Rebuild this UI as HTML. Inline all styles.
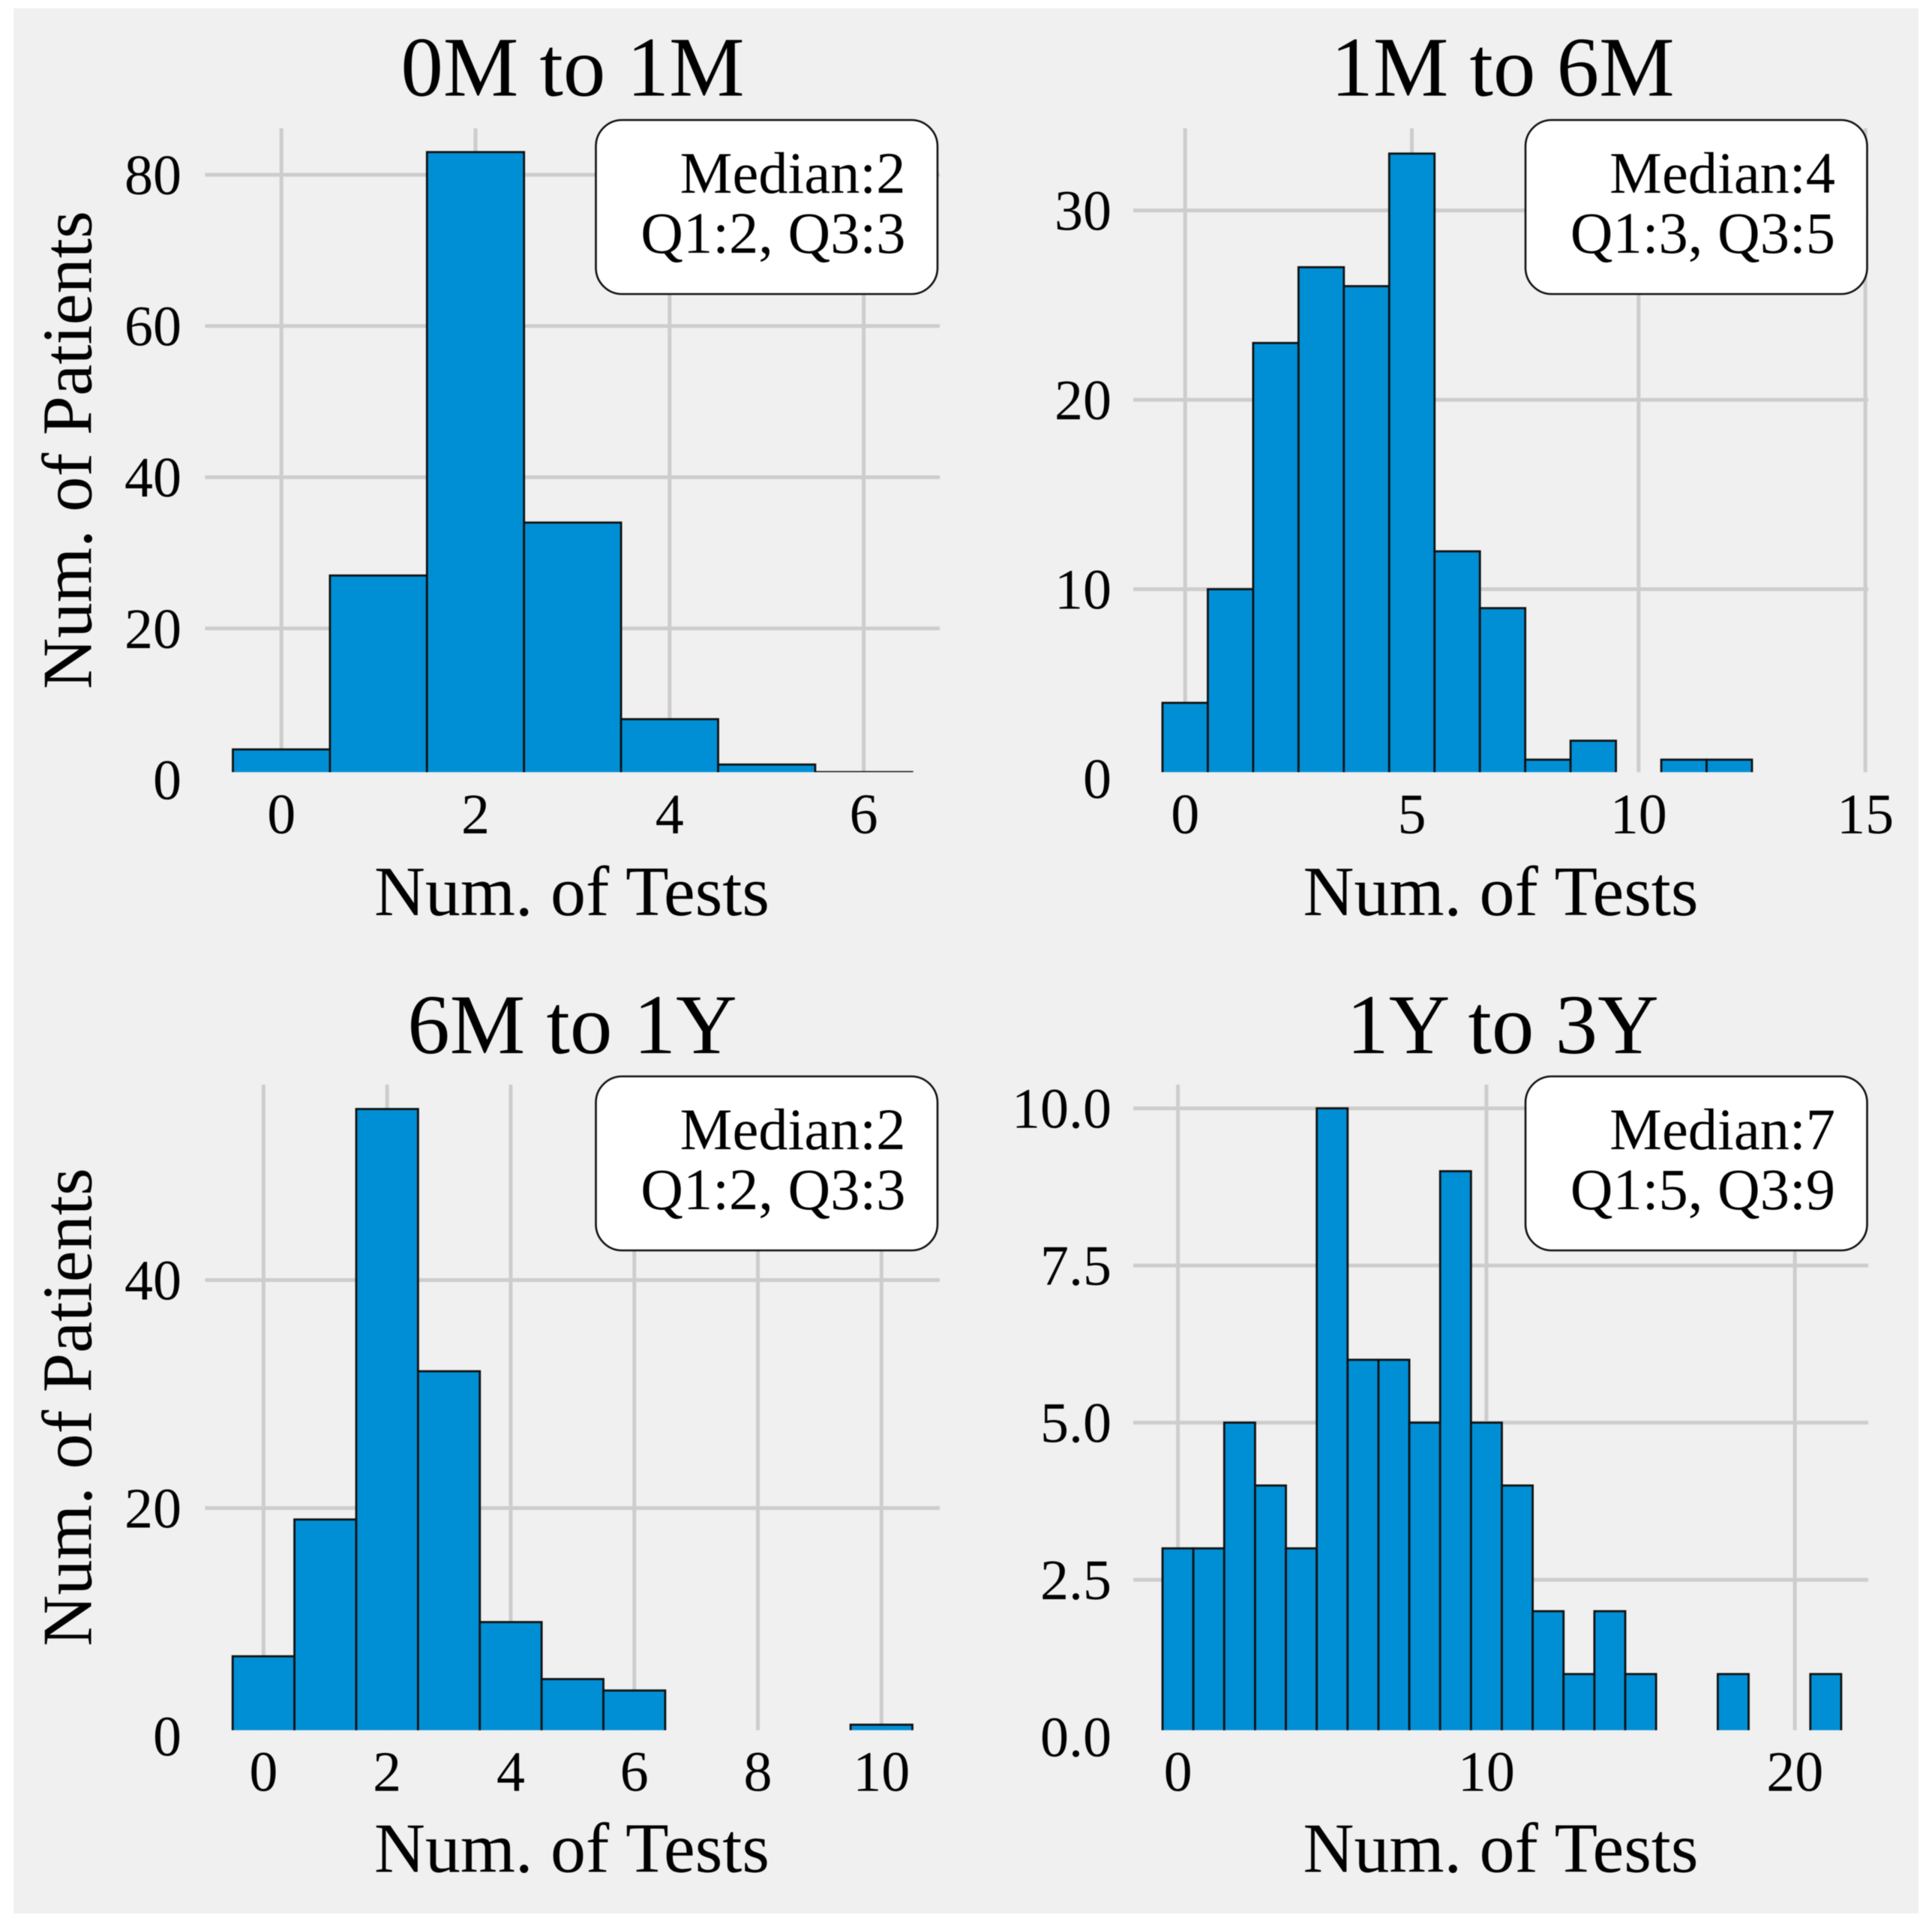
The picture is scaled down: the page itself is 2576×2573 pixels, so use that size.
<!DOCTYPE html>
<html lang="en">
<head>
<meta charset="utf-8">
<title>Number of tests per patient histograms</title>
<style>
html,body{margin:0;padding:0;background:#fff;}
svg{display:block;filter:blur(0.6px);}
text{font-family:"Liberation Serif",serif;fill:#000;}
</style>
</head>
<body>
<svg id="figure" xmlns="http://www.w3.org/2000/svg" width="2576" height="2573" viewBox="0 0 2576 2573">
<rect x="18" y="11" width="2540" height="2540" fill="#f0f0f0"/>
</svg>
<script>
// Panel 1 data
const titleA = "0M to 1M";
const testsA = [0, 1, 2, 3, 4, 5, 6];
const patientsA = [4, 27, 83, 34, 8, 2, 1];
const xTicksA = ["0", "2", "4", "6"];
const yTicksA = ["0", "20", "40", "60", "80"];
const statsA = ["Median:2", "Q1:2, Q3:3"];

// Panel 2 data
const titleB = "1M to 6M";
const testsB = [0, 1, 2, 3, 4, 5, 6, 7, 8, 9, 10, 11, 12];
const patientsB = [4, 10, 23, 27, 26, 33, 12, 9, 1, 2, 0, 1, 1];
const xTicksB = ["0", "5", "10", "15"];
const yTicksB = ["0", "10", "20", "30"];
const statsB = ["Median:4", "Q1:3, Q3:5"];

// Panel 3 data
const titleC = "6M to 1Y";
const testsC = [0, 1, 2, 3, 4, 5, 6, 7, 8, 9, 10];
const patientsC = [7, 19, 55, 32, 10, 5, 4, 0, 0, 0, 1];
const xTicksC = ["0", "2", "4", "6", "8", "10"];
const yTicksC = ["0", "20", "40"];
const statsC = ["Median:2", "Q1:2, Q3:3"];

// Panel 4 data
const titleD = "1Y to 3Y";
const testsD = [0, 1, 2, 3, 4, 5, 6, 7, 8, 9, 10, 11, 12, 13, 14, 15, 16, 17, 18, 19, 20, 21];
const patientsD = [3, 3, 5, 4, 3, 10, 6, 6, 5, 9, 5, 4, 2, 1, 2, 1, 0, 0, 1, 0, 0, 1];
const xTicksD = ["0", "10", "20"];
const yTicksD = ["0.0", "2.5", "5.0", "7.5", "10.0"];
const statsD = ["Median:7", "Q1:5, Q3:9"];

const panels = [
  {id: "a", title: titleA, tests: testsA, patients: patientsA, xTicks: xTicksA, yTicks: yTicksA, stats: statsA,
   x0: 375.2, xk: 129.4, y0: 1039.4, yk: 10.08, left: 273.5, right: 1253, top: 171, bottom: 1029.4,
   boxX: 794.5, boxY: 160, titleX: 763.5, titleY: 127.5, labelX: 762.5, labelY: 1220, tickLabelY: 1111, yTickRight: 242, yLabelY: 600},
  {id: "b", title: titleB, tests: testsB, patients: patientsB, xTicks: xTicksB, yTicks: yTicksB, stats: statsB,
   x0: 1580.2, xk: 60.46, y0: 1038, yk: 25.25, left: 1511, right: 2491, top: 171, bottom: 1029.4,
   boxX: 2034, boxY: 160, titleX: 2003.5, titleY: 127.5, labelX: 2001, labelY: 1220, tickLabelY: 1111, yTickRight: 1482, yLabelY: null},
  {id: "c", title: titleC, tests: testsC, patients: patientsC, xTicks: xTicksC, yTicks: yTicksC, stats: statsC,
   x0: 351.4, xk: 82.39, y0: 2314.5, yk: 15.2, left: 273.5, right: 1253, top: 1446, bottom: 2306.6,
   boxX: 794.5, boxY: 1435, titleX: 763, titleY: 1404, labelX: 762.5, labelY: 2495.5, tickLabelY: 2387.5, yTickRight: 242, yLabelY: 1876},
  {id: "d", title: titleD, tests: testsD, patients: patientsD, xTicks: xTicksD, yTicks: yTicksD, stats: statsD,
   x0: 1570.6, xk: 41.13, y0: 2315.6, yk: 83.8, left: 1511, right: 2491, top: 1446, bottom: 2306.6,
   boxX: 2034, boxY: 1435, titleX: 2003.5, titleY: 1404, labelX: 2001, labelY: 2495.5, tickLabelY: 2387.5, yTickRight: 1482, yLabelY: null}
];

const NS = "http://www.w3.org/2000/svg";
const figure = document.getElementById("figure");

function make(tag, parent) {
  const el = document.createElementNS(NS, tag);
  parent.appendChild(el);
  return el;
}

function drawPanel(p) {
  const xScale = function (v) { return p.x0 + v * p.xk; };
  const yScale = function (v) { return p.y0 - v * p.yk; };

  const group = make("g", figure);
  
  

  const clip = make("clipPath", group);
  clip.setAttribute("id", "plot-clip-" + p.id);
  const clipRect = make("rect", clip);
  clipRect.setAttribute("x", p.left);
  clipRect.setAttribute("y", p.top - 60);
  clipRect.setAttribute("width", p.right - p.left);
  clipRect.setAttribute("height", p.bottom - p.top + 60);

  p.yTicks.forEach(function (label) {
    const v = Number(label);
    if (yScale(v) < p.bottom) {
      const line = make("line", group);
      
      
      line.setAttribute("x1", p.left);
      line.setAttribute("x2", p.right);
      line.setAttribute("y1", yScale(v));
      line.setAttribute("y2", yScale(v));
      line.setAttribute("stroke", "#cdcdcd");
      line.setAttribute("stroke-width", "5");
    }
    const text = make("text", group);
    
    
    text.setAttribute("x", p.yTickRight);
    text.setAttribute("y", yScale(v) + 26);
    text.setAttribute("text-anchor", "end");
    text.setAttribute("font-size", "76");
    text.textContent = label;
  });

  p.xTicks.forEach(function (label) {
    const v = Number(label);
    const line = make("line", group);
    
    
    line.setAttribute("x1", xScale(v));
    line.setAttribute("x2", xScale(v));
    line.setAttribute("y1", p.top);
    line.setAttribute("y2", p.bottom);
    line.setAttribute("stroke", "#cdcdcd");
    line.setAttribute("stroke-width", "5");
    const text = make("text", group);
    
    
    text.setAttribute("x", xScale(v));
    text.setAttribute("y", p.tickLabelY);
    text.setAttribute("text-anchor", "middle");
    text.setAttribute("font-size", "76");
    text.textContent = label;
  });

  const bars = make("g", group);
  
  
  bars.setAttribute("clip-path", "url(#plot-clip-" + p.id + ")");
  p.tests.forEach(function (t, i) {
    const count = p.patients[i];
    if (count <= 0) { return; }
    const bar = make("rect", bars);
    
    
    bar.setAttribute("x", xScale(t - 0.5));
    bar.setAttribute("y", yScale(count));
    bar.setAttribute("width", xScale(t + 0.5) - xScale(t - 0.5));
    bar.setAttribute("height", yScale(0) - yScale(count));
    bar.setAttribute("fill", "#008fd5");
    bar.setAttribute("stroke", "#111");
    bar.setAttribute("stroke-width", "2.8");
  });

  const box = make("rect", group);
  
  
  box.setAttribute("x", p.boxX);
  box.setAttribute("y", p.boxY);
  box.setAttribute("width", "455.5");
  box.setAttribute("height", "232");
  box.setAttribute("rx", "35");
  box.setAttribute("ry", "35");
  box.setAttribute("fill", "#fff");
  box.setAttribute("stroke", "#111");
  box.setAttribute("stroke-width", "2.6");

  p.stats.forEach(function (line, i) {
    const text = make("text", group);
    
    
    text.setAttribute("x", p.boxX + 413);
    text.setAttribute("y", p.boxY + 97 + i * 80);
    text.setAttribute("text-anchor", "end");
    text.setAttribute("font-size", "78.5");
    text.textContent = line;
  });

  const title = make("text", group);
  
  
  title.setAttribute("x", p.titleX);
  title.setAttribute("y", p.titleY);
  title.setAttribute("text-anchor", "middle");
  title.setAttribute("font-size", "113");
  title.textContent = p.title;

  const xLabel = make("text", group);
  
  
  xLabel.setAttribute("x", p.labelX);
  xLabel.setAttribute("y", p.labelY);
  xLabel.setAttribute("text-anchor", "middle");
  xLabel.setAttribute("font-size", "94");
  xLabel.textContent = "Num. of Tests";

  if (p.yLabelY !== null) {
    const yLabel = make("text", group);
    
    
    yLabel.setAttribute("transform", "translate(121.6 " + p.yLabelY + ") rotate(-90)");
    yLabel.setAttribute("text-anchor", "middle");
    yLabel.setAttribute("font-size", "94.5");
    yLabel.textContent = "Num. of Patients";
  }
}

panels.forEach(drawPanel);
</script>
</body>
</html>
